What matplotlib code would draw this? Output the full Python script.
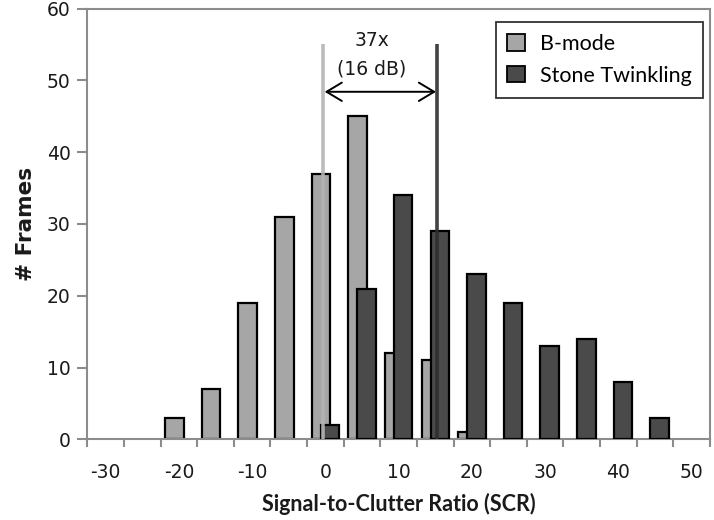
import matplotlib
matplotlib.use("Agg")
import matplotlib.pyplot as plt
import numpy as np

# Data
categories = [-30, -25, -20, -15, -10, -5, 0, 5, 10, 15, 20, 25, 30, 35, 40, 45, 50]
bmode = [0, 0, 3, 7, 19, 31, 37, 45, 12, 11, 1, 0, 0, 0, 0, 0, 0]
stone = [0, 0, 0, 0, 0, 0, 2, 21, 34, 29, 23, 19, 13, 14, 8, 3, 0]
tick_labels = ["-30", "-20", "-10", "0", "10", "20", "30", "40", "50"]
bmode_mean = -0.3
stone_mean = 15.3
line_top = 55
arrow_y = 48.4
annot_lines = ["37x", "(16 dB)"]

LIGHT = "#a6a6a6"
DARK = "#4a4a4a"
AXC = "#8c8c8c"

fig = plt.figure(figsize=(7.14, 5.2), dpi=100)
ax = fig.add_axes([87.3 / 714, 1 - 439.3 / 520, (710 - 87.3) / 714, (439.3 - 8.5) / 520])

idx = np.arange(len(categories))
bm = np.array(bmode)
st = np.array(stone)
w = 0.505
off = 0.123
mb = bm > 0
ms = st > 0
ax.bar(idx[mb] - off, bm[mb], width=w, color=LIGHT, edgecolor="black", linewidth=1.6,
       label="B-mode", zorder=2)
ax.bar(idx[ms] + off, st[ms], width=w, color=DARK, edgecolor="black", linewidth=1.6,
       label="Stone Twinkling", zorder=3)


def to_cat(v):
    return (v - categories[0]) / (categories[1] - categories[0])


xb = to_cat(bmode_mean)
xs = to_cat(stone_mean)
ax.plot([xb, xb], [0, line_top], color="#b4b4b4", lw=2.6, zorder=4, solid_capstyle="butt", alpha=0.9)
ax.plot([xs, xs], [0, line_top], color="#2e2e2e", lw=2.6, zorder=4, solid_capstyle="butt", alpha=0.9)
ax.annotate("", xy=(xb + 0.04, arrow_y), xytext=(xs - 0.04, arrow_y),
            arrowprops=dict(arrowstyle="<->,head_length=0.5,head_width=0.3", color="black", lw=1.4,
                            mutation_scale=22, shrinkA=0, shrinkB=0), zorder=5)
xm = to_cat(6.3)
ax.text(xm, 55.6, annot_lines[0], ha="center", va="center", fontsize=13.5,
        family="DejaVu Sans", color="#1a1a1a")
ax.text(xm, 51.6, annot_lines[1], ha="center", va="center", fontsize=13.5,
        family="DejaVu Sans", color="#1a1a1a")

ax.set_xlim(-0.5, len(categories) - 0.5)
ax.set_ylim(0, 60)
ax.set_yticks(np.arange(0, 61, 10))
ax.set_xticks(idx[::2])
ax.set_xticklabels(tick_labels)
ax.set_xticks(np.arange(-0.5, len(categories), 1.0), minor=True)
ax.tick_params(axis="x", which="major", length=0, pad=17, labelsize=13.5, labelcolor="#1a1a1a")
ax.tick_params(axis="x", which="minor", length=6, width=1.5, color=AXC, direction="out")
ax.tick_params(axis="y", which="major", length=7, width=1.5, color=AXC, direction="out",
               labelsize=13.5, pad=5, labelcolor="#1a1a1a")
for lab in ax.get_xticklabels() + ax.get_yticklabels():
    lab.set_family("DejaVu Sans")
for s in ax.spines.values():
    s.set_color(AXC)
    s.set_linewidth(1.5)

ax.set_xlabel("Signal-to-Clutter Ratio (SCR)", family="Lato", fontweight="bold",
              fontsize=15.5, labelpad=8, color="#1a1a1a")
ax.set_ylabel("# Frames", family="DejaVu Sans", fontweight="bold", fontsize=15.5,
              labelpad=8, color="#1a1a1a")

leg = ax.legend(loc="upper right", bbox_to_anchor=((703.3 - 87.3) / 622.7, (439.3 - 22) / 430.8),
                borderaxespad=0, fancybox=False, frameon=True, edgecolor="black",
                handlelength=0.8, handleheight=0.8, handletextpad=0.7, labelspacing=0.55,
                borderpad=0.55, prop=dict(family="Lato", size=15.5))
leg.get_frame().set_linewidth(1.3)
for h in leg.legend_handles:
    h.set_linewidth(1.3)

fig.savefig("out.png", dpi=100)
